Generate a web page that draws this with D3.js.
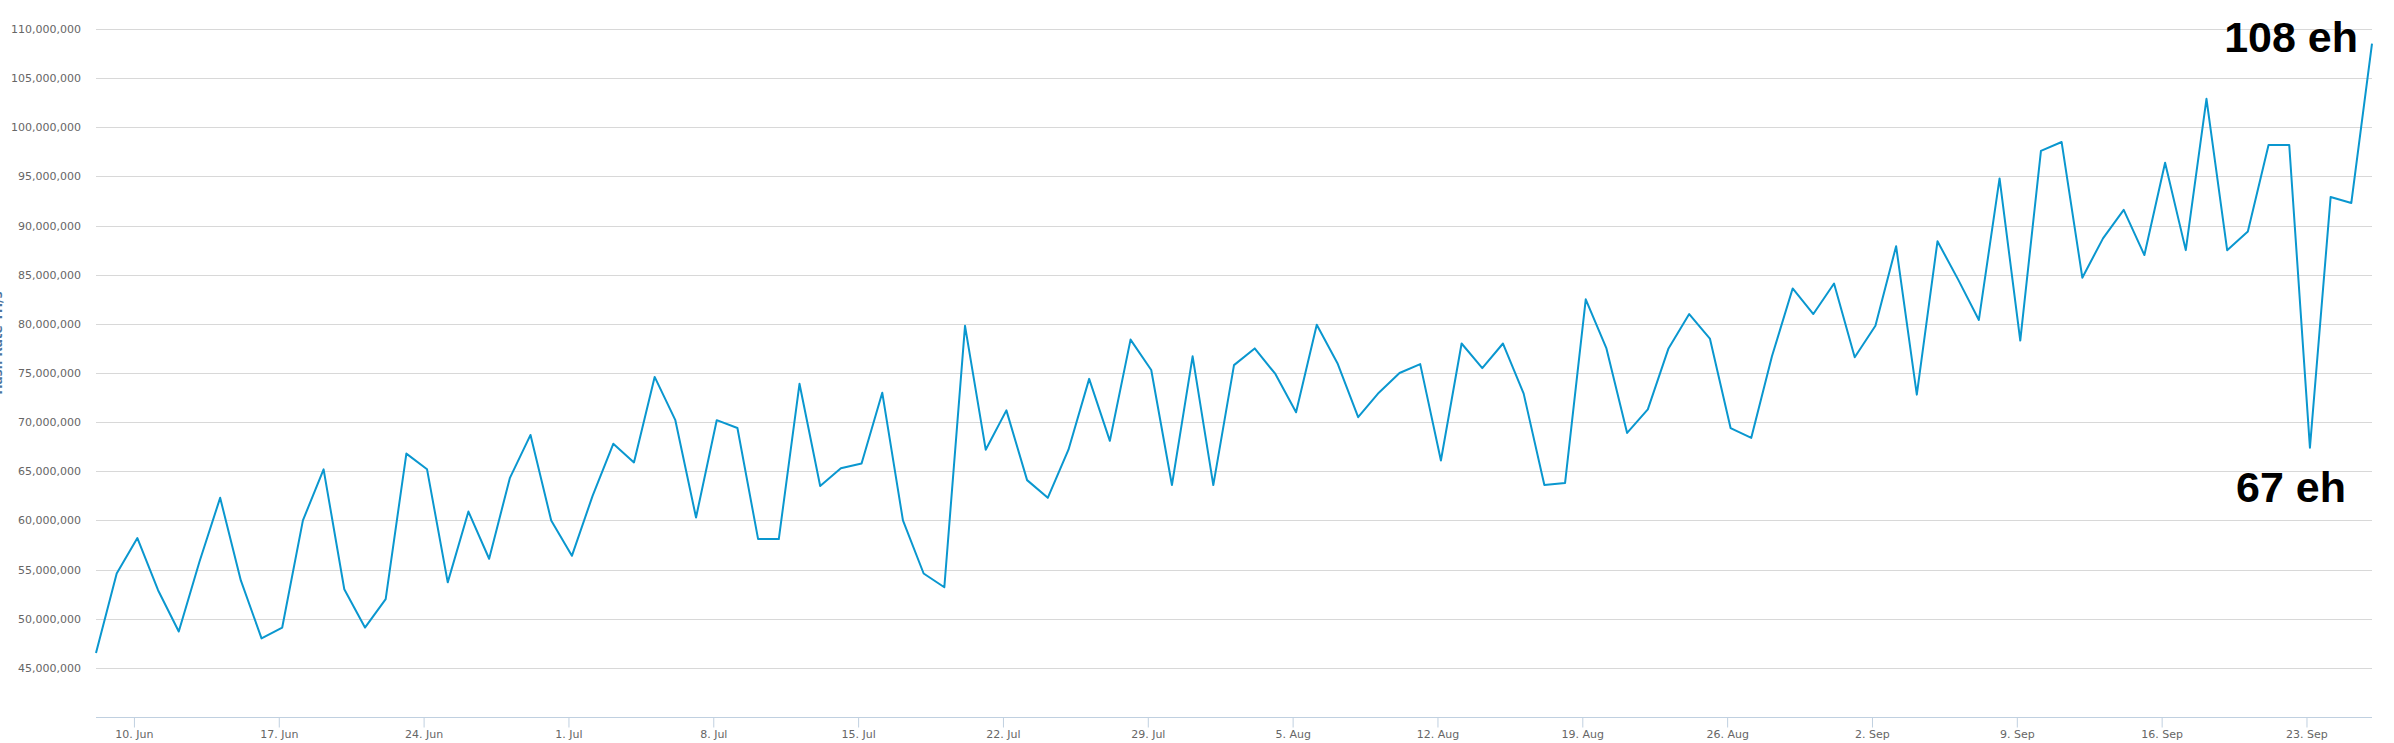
<!DOCTYPE html>
<html lang="en">
<head>
<meta charset="utf-8">
<title>Hash Rate</title>
<script src="https://d3js.org/d3.v7.min.js"></script>
<style>
  body { margin: 0; background: #fff; }
  .axis text { font-family: "DejaVu Sans", Verdana, sans-serif; font-size: 11px; fill: #666; }
  .note { font-family: "Liberation Sans", Arial, sans-serif; font-weight: bold; font-size: 43px; fill: #000; }
</style>
</head>
<body>
<script>
// daily hash rate, millions of TH/s, starting 8 Jun 2019
var startDay = "2019-06-08T04:00:00Z";
var hashRateM = [
  46.5, 54.6, 58.2, 52.9, 48.7, 55.8, 62.3, 53.9, 48.0, 49.1,
  60.0, 65.2, 53.0, 49.1, 52.0, 66.8, 65.2, 53.7, 60.9, 56.1,
  64.3, 68.7, 60.0, 56.4, 62.5, 67.8, 65.9, 74.6, 70.2, 60.3,
  70.2, 69.4, 58.1, 58.1, 73.9, 63.5, 65.3, 65.8, 73.0, 60.0,
  54.6, 53.2, 79.8, 67.2, 71.2, 64.1, 62.3, 67.2, 74.4, 68.1,
  78.4, 75.3, 63.6, 76.7, 63.6, 75.8, 77.5, 74.9, 71.0, 79.9,
  76.0, 70.5, 73.0, 75.0, 75.9, 66.1, 78.0, 75.5, 78.0, 72.9,
  63.6, 63.8, 82.5, 77.5, 68.9, 71.3, 77.5, 81.0, 78.5, 69.4,
  68.4, 76.7, 83.6, 81.0, 84.1, 76.6, 79.8, 87.9, 72.8, 88.4,
  84.5, 80.4, 94.8, 78.3, 97.6, 98.5, 84.7, 88.7, 91.6, 87.0,
  96.4, 87.5, 102.9, 87.5, 89.4, 98.2, 98.2, 67.4, 92.9, 92.3,
  108.5
];
var yTicks = [45e6, 50e6, 55e6, 60e6, 65e6, 70e6, 75e6, 80e6, 85e6, 90e6, 95e6, 100e6, 105e6, 110e6];
var notes = ["108 eh", "67 eh"];
var yTitle = "Hash Rate TH/s";

var w = 2394;
var h = 743;
var plotLeft = 96, plotRight = 2372, plotTop = 29, plotBottom = 717;

var t0 = new Date(startDay);
var dataset = hashRateM.map(function(v, i) {
  return { date: d3.utcDay.offset(t0, i), value: v * 1e6 };
});

var xScale = d3.scaleUtc()
  .domain(d3.extent(dataset, function(d) { return d.date; }))
  .range([plotLeft, plotRight]);
var yScale = d3.scaleLinear()
  .domain([40e6, 110e6])
  .range([plotBottom, plotTop]);

var svg = d3.select("body").append("svg")
  .attr("width", w)
  .attr("height", h);

// gridlines
svg.append("g")
  .selectAll("line")
  .data(yTicks)
  .enter()
  .append("line")
  .attr("x1", plotLeft)
  .attr("x2", plotRight)
  .attr("y1", function(d) { return Math.round(yScale(d)) + 0.5; })
  .attr("y2", function(d) { return Math.round(yScale(d)) + 0.5; })
  .attr("stroke", "#d8d8d8")
  .attr("stroke-width", 1);

// y axis labels
var yAxis = d3.axisLeft(yScale)
  .tickValues(yTicks)
  .tickSize(0)
  .tickPadding(15)
  .tickFormat(d3.format(","));
svg.append("g")
  .attr("class", "axis")
  .attr("transform", "translate(" + plotLeft + ",0)")
  .call(yAxis)
  .call(function(g) { g.select(".domain").remove(); });

// y axis title, mostly off the left edge
svg.append("text")
  .attr("transform", "translate(2,343) rotate(-90)")
  .attr("text-anchor", "middle")
  .style("font-family", "DejaVu Sans, sans-serif")
  .style("font-size", "12px")
  .style("font-weight", "bold")
  .style("fill", "#4d759e")
  .text(yTitle);

// x axis
var xAxis = d3.axisBottom(xScale)
  .ticks(d3.utcMonday.every(1))
  .tickSize(10)
  .tickPadding(3)
  .tickFormat(d3.utcFormat("%-d. %b"));
var gx = svg.append("g")
  .attr("class", "axis")
  .attr("transform", "translate(0," + (plotBottom + 0.5) + ")")
  .call(xAxis);
gx.select(".domain").remove();
gx.selectAll(".tick line").attr("stroke", "#c0d0e0");
svg.append("line")
  .attr("x1", plotLeft).attr("x2", plotRight)
  .attr("y1", plotBottom + 0.5).attr("y2", plotBottom + 0.5)
  .attr("stroke", "#c0d0e0");

// line
var line = d3.line()
  .x(function(d) { return xScale(d.date); })
  .y(function(d) { return yScale(d.value); });
svg.append("path")
  .datum(dataset)
  .attr("d", line)
  .attr("fill", "none")
  .attr("stroke", "#0a97cf")
  .attr("stroke-width", 2)
  .attr("stroke-linejoin", "round");

// annotations
svg.append("text")
  .attr("class", "note")
  .attr("x", 2358)
  .attr("y", 52)
  .attr("text-anchor", "end")
  .text(notes[0]);
svg.append("text")
  .attr("class", "note")
  .attr("x", 2346)
  .attr("y", 502)
  .attr("text-anchor", "end")
  .text(notes[1]);
</script>
</body>
</html>
